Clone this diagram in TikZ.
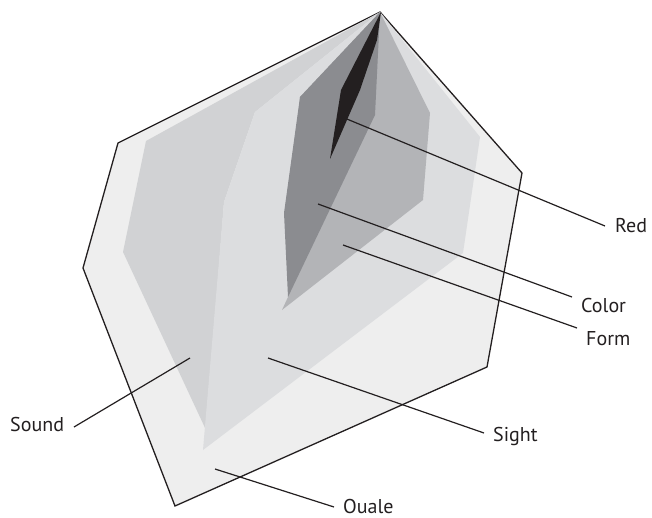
\documentclass[tikz,border=0pt]{standalone}
\usepackage{fontspec}
\setmainfont{PT Sans}
\definecolor{qualec}{HTML}{EEEEEE}
\definecolor{soundc}{HTML}{D1D2D4}
\definecolor{sightc}{HTML}{DCDDDF}
\definecolor{formc}{HTML}{B3B4B7}
\definecolor{colorc}{HTML}{8B8C90}
\definecolor{redc}{HTML}{231F20}
\definecolor{inkc}{HTML}{231F20}
\begin{document}
\begin{tikzpicture}[x=1pt,y=-1pt,
  leader/.style={draw=inkc,line width=1.2pt},
  lab/.style={anchor=base west,inner sep=0pt,font=\fontsize{20}{20}\selectfont,text=inkc}]
\useasboundingbox (0,0) rectangle (652,518);
% Quale (outer)
\filldraw[fill=qualec,draw=inkc,line width=1.3pt,line join=miter]
  (380,12) -- (522,173) -- (487,367) -- (175,506) -- (83,268) -- (118,143) -- cycle;
% Sound
\fill[soundc] (380,12) -- (146,141) -- (123,252) -- (206,430) -- (224,202) -- (255,112) -- cycle;
% Sight
\fill[sightc] (380,12) -- (480,137) -- (463,253) -- (203,450) -- (224,202) -- (255,112) -- cycle;
% Form
\fill[formc] (380,12) -- (430,113) -- (423,200) -- (282,310) -- (288,297) -- (300,97) -- cycle;
% Color
\fill[colorc] (380,12) -- (300,97) -- (284,213) -- (288,297) -- (375,115) -- cycle;
% Red
\fill[redc] (381,12) -- (341,90) -- (330,159) -- (360,90) -- (377,40) -- cycle;
% anchor points
\coordinate (redp) at (342,117);
\coordinate (rede) at (605,226);
\coordinate (colp) at (318,204);
\coordinate (cole) at (572,297);
\coordinate (forp) at (343,245);
\coordinate (fore) at (577,328);
\coordinate (soup) at (190,358);
\coordinate (soue) at (74,427);
\coordinate (sigp) at (268,358);
\coordinate (sige) at (484,433);
\coordinate (quap) at (215,469);
\coordinate (quae) at (334,507);
% labels
\node[lab] (redl) at (615,233) {Red};
\node[lab] (coll) at (581,312) {Color};
\node[lab] (forl) at (586,345) {Form};
\node[lab] (soul) at (10,431) {Sound};
\node[lab] (sigl) at (493,441) {Sight};
\node[lab] (qual) at (343,513) {Ouale};
% leaders
\draw[leader] (redp) -- (rede);
\draw[leader] (colp) -- (cole);
\draw[leader] (forp) -- (fore);
\draw[leader] (soup) -- (soue);
\draw[leader] (sigp) -- (sige);
\draw[leader] (quap) -- (quae);
\end{tikzpicture}
\end{document}
